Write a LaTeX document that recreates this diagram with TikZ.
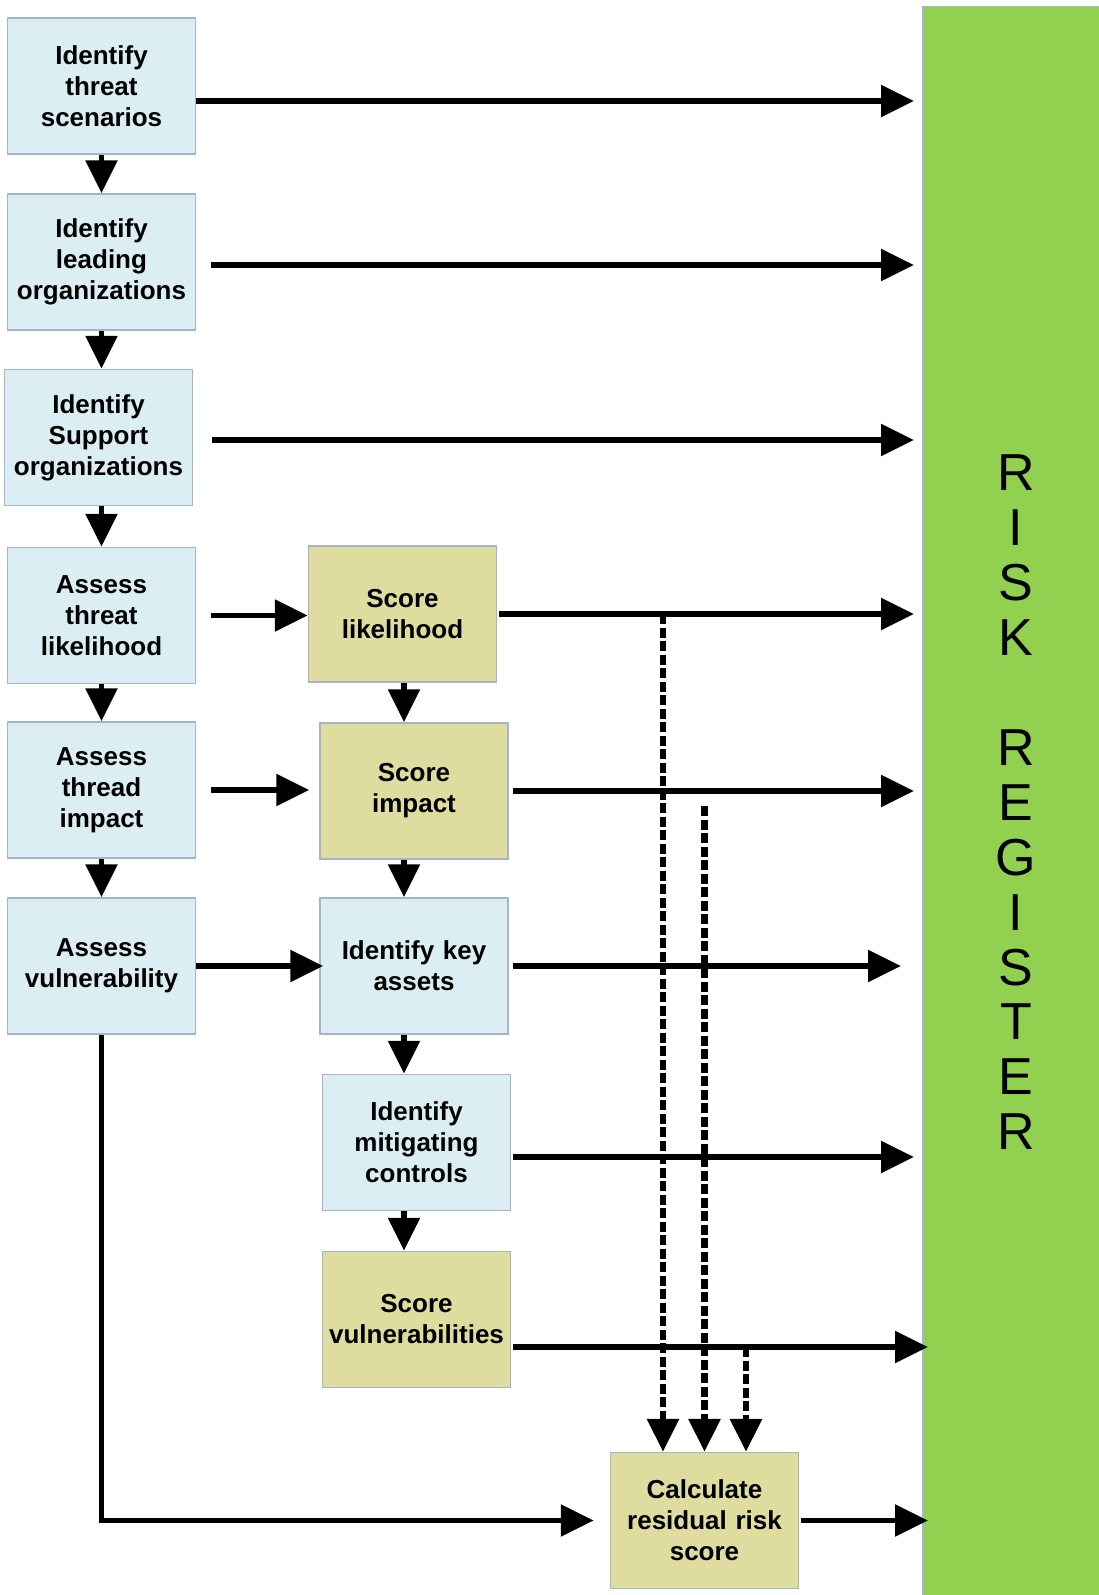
\documentclass[tikz,border=0pt]{standalone}
\usepackage{fontspec}
\setmainfont{Liberation Sans}
\usetikzlibrary{arrows.meta}
\definecolor{boxblue}{HTML}{DBEEF4}
\definecolor{boxtan}{HTML}{DEDC9F}
\definecolor{regreen}{HTML}{92D050}
\definecolor{boxline}{HTML}{A5B5C5}
\tikzset{font=\fontsize{26}{31}\selectfont\bfseries}
\tikzset{every node/.append style={transform shape=false}}

\begin{document}
\begin{tikzpicture}[x=1pt,y=-1pt,
  stepbox/.style={draw=boxline,line width=1.5pt,minimum width=188pt,minimum height=136pt,
    text width=186pt,align=center,inner sep=0pt},
  bluebox/.style={stepbox,fill=boxblue},
  tanbox/.style={stepbox,fill=boxtan},
  arr/.style={line width=5.5pt,-{Triangle[length=33pt,width=31pt]}},
  dasharr/.style={arr,line width=6.5pt,dash pattern=on 10pt off 3.5pt}]
  \useasboundingbox (0,0) rectangle (1099,1595);
  \node[fill=regreen,draw=boxline,line width=1.5pt,anchor=north west,
        minimum width=200pt,minimum height=1600pt,inner sep=0pt] (reg) at (922,6) {};
  \foreach \l [count=\i] in {R,I,S,K,{},R,E,G,I,S,T,E,R}{
    \node[font=\fontsize{52}{52}\selectfont\mdseries] (l\i) at (1016,{473+(\i-1)*54.9}) {\l};
  };
  % left column
  \node[bluebox] (b1) at (101.5,86) {Identify\\threat\\scenarios};
  \node[bluebox] (b2) at (101.5,262) {Identify\\leading\\organizations};
  \node[bluebox] (b3) at (98.5,437.5) {Identify\\Support\\organizations};
  \node[bluebox] (b4) at (101.5,615.5) {Assess\\threat\\likelihood};
  \node[bluebox] (b5) at (101.5,790) {Assess\\thread\\impact};
  \node[bluebox] (b6) at (101.5,966) {Assess\\vulnerability};
  % middle column
  \node[tanbox] (s1) at (402.5,614) {Score\\likelihood};
  \node[tanbox] (s2) at (414,791) {Score\\impact};
  \node[bluebox] (k) at (414,966) {Identify key\\assets};
  \node[bluebox] (m) at (416.5,1142.5) {Identify\\mitigating\\controls};
  \node[tanbox] (v) at (416.5,1319.5) {Score\\vulnerabilities};
  \node[tanbox] (c) at (704.5,1520.5) {Calculate\\residual risk\\score};

  \foreach \a/\b in {b1/b2,b2/b3,b3/b4,b4/b5,b5/b6}
    \draw[arr] (\a.south -| b1.south) -- (\b.north -| b1.south);
  \coordinate (mc) at ([xshift=1.5pt]s1.south);
  \foreach \a/\b in {s1/s2,s2/k,k/m,m/v}
    \draw[arr] (\a.south -| mc) -- (\b.north -| mc);

  \coordinate (o1) at ([yshift=-15pt]b1.east);
  \coordinate (o2) at ([yshift=-3pt]b2.east);
  \coordinate (o3) at ([yshift=-2.5pt]b3.east);
  \coordinate (o7) at ([yshift=-14.5pt]m.east);
  \coordinate (o8) at ([yshift=-27.5pt]v.east);
  \draw[arr,shorten >=8pt] (o1) -- (o1 -| reg.west);
  \draw[arr,shorten <=15pt,shorten >=8pt] (o2) -- (o2 -| reg.west);
  \draw[arr,shorten <=19pt,shorten >=8pt] (o3) -- (o3 -| reg.west);
  \draw[arr,shorten <=15pt] (b4.east) -- (b4.east -| s1.west);
  \draw[arr,shorten <=2pt,shorten >=8pt] (s1.east) -- (s1.east -| reg.west);
  \draw[arr,shorten <=15pt,shorten >=10pt] (b5.east) -- (b5.east -| s2.west);
  \draw[arr,shorten <=4pt,shorten >=8pt] (s2.east) -- (s2.east -| reg.west);
  \draw[arr,shorten >=-4pt] (b6.east) -- (b6.east -| k.west);
  \draw[arr,shorten <=4pt,shorten >=21pt] (k.east) -- (k.east -| reg.west);
  \draw[arr,shorten <=2pt,shorten >=8pt] (o7) -- (o7 -| reg.west);
  \draw[arr,shorten <=2pt,shorten >=-6pt] (o8) -- (o8 -| reg.west);
  \draw[arr,shorten <=2pt,shorten >=-6pt] (c.east) -- (c.east -| reg.west);
  \draw[arr,shorten >=16pt] (b6.south) |- (c.west);

  % dashed feeds into the calculation
  \coordinate (d1) at ([xshift=-41.5pt]c.north);
  \coordinate (d2) at (c.north);
  \coordinate (d3) at ([xshift=41.5pt]c.north);
  \coordinate (e2) at (d2 |- s2.east);
  \draw[dasharr] (d1 |- s1.east) -- (d1);
  \draw[dasharr] ([yshift=-15pt]e2) -- (d2);
  \draw[dasharr] (d3 |- o8) -- (d3);
\end{tikzpicture}
\end{document}
